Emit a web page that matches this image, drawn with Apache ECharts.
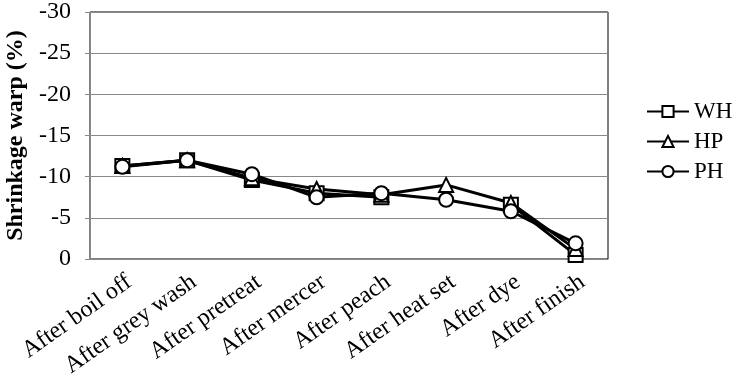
<!DOCTYPE html>
<html>
<head>
<meta charset="utf-8">
<script src="https://cdn.jsdelivr.net/npm/echarts@6/dist/echarts.min.js"></script>
<style>html,body{margin:0;padding:0;background:#fff}#c{width:742px;height:383px}</style>
</head>
<body>
<div id="c"></div>
<script>
const categories = ['After boil off','After grey wash','After pretreat','After mercer','After peach','After heat set','After dye','After finish'];
const WH = [-11.3, -12.0, -9.6, -8.0, -7.5, null, -6.6, -0.5];
const HP = [-11.3, -12.0, -9.8, -8.5, -7.8, -9.0, -6.8, -1.2];
const PH = [-11.2, -12.0, -10.3, -7.5, -8.0, -7.2, -5.8, -1.9];
const yTicks = {min: -30, max: 0, interval: 5};

const font = 'Liberation Serif';
function ser(name, data, symbol, size) {
  return {
    name, type: 'line', data, symbol, symbolSize: size, connectNulls: false,
    lineStyle: {color: '#000', width: 3},
    itemStyle: {color: '#fff', borderColor: '#000', borderWidth: 2},
    emphasis: {disabled: true}
  };
}
const chart = echarts.init(document.getElementById('c'), null, {renderer: 'canvas'});
chart.setOption({
  animation: false,
  grid: {left: 90, right: 134, top: 12, bottom: 124, show: true, borderColor: '#000', borderWidth: 1, outerBoundsMode: 'none', containLabel: false},
  legend: {
    orient: 'vertical', left: 646, top: 100, padding: 0, itemWidth: 42, itemHeight: 14, itemGap: 7,
    textStyle: {fontFamily: font, fontSize: 23, color: '#000'},
    data: ['WH','HP','PH']
  },
  xAxis: {
    type: 'category', data: categories, boundaryGap: true,
    axisLine: {lineStyle: {color: '#888', width: 1}},
    axisTick: {show: false},
    axisLabel: {rotate: 35, interval: 0, margin: 11, verticalAlign: 'top', fontFamily: font, fontSize: 24, color: '#000'}
  },
  yAxis: {
    type: 'value', min: yTicks.min, max: yTicks.max, interval: yTicks.interval, inverse: true,
    name: 'Shrinkage warp (%)', nameLocation: 'middle', nameGap: 57,
    nameTextStyle: {fontFamily: font, fontSize: 24, fontWeight: 'bold', color: '#000'},
    axisLine: {show: true, lineStyle: {color: '#888'}},
    axisTick: {show: true, length: 5, lineStyle: {color: '#888'}},
    splitLine: {lineStyle: {color: '#888'}},
    axisLabel: {fontFamily: font, fontSize: 24, color: '#000', margin: 19}
  },
  series: [
    ser('WH', WH, 'rect', 14),
    ser('HP', HP, 'triangle', 14),
    ser('PH', PH, 'circle', 14)
  ]
});
</script>
</body>
</html>
